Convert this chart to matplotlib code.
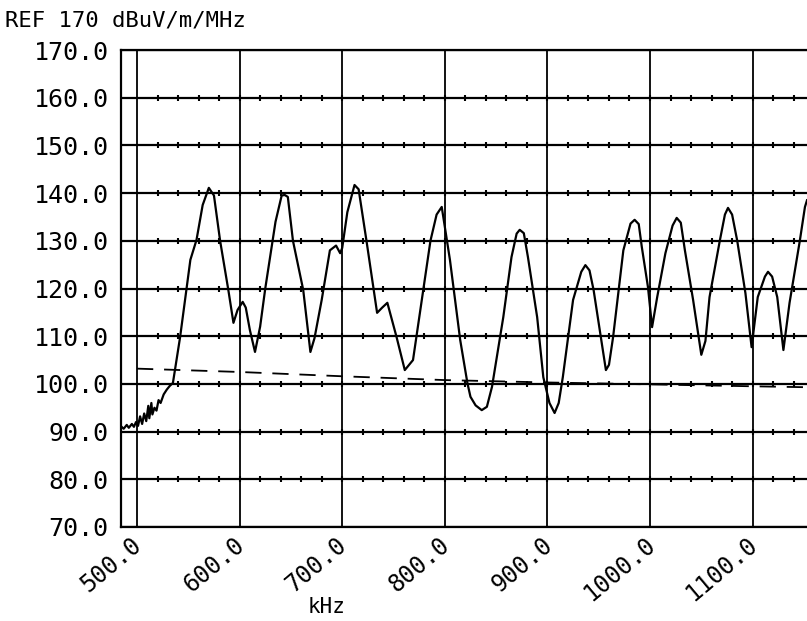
# field_strength_plot.py
# Spectrum analyser trace, 500 kHz - 1.15 MHz, REF 170 dBuV/m/MHz

import numpy as np
import matplotlib.pyplot as plt
from matplotlib.transforms import ScaledTranslation

# ── DATA ────────────────────────────────────────────────
# measured trace (kHz, dBuV/m/MHz)
freq_khz = [484, 487, 490, 492, 495, 497, 499, 501, 503, 505, 507, 509,
            511, 512, 514, 515, 517, 519, 521, 523, 526, 529, 532, 535,
            542, 552, 558, 564, 570, 575, 581, 589, 594, 598, 603, 606,
            610, 615, 620, 625, 635, 641, 644, 647, 652, 662, 669, 673,
            680, 688, 694, 698, 700, 705, 712, 716, 724, 734, 739, 744,
            753, 761, 769, 779, 786, 792, 797, 805, 815, 822, 825, 830,
            836, 841, 846, 857, 865, 870, 873, 877, 881, 890, 896, 902,
            907, 911, 915, 925, 933, 937, 941, 945, 951, 957, 960, 964,
            974, 981, 985, 989, 992, 998, 1002, 1007, 1015, 1022, 1026,
            1030, 1034, 1042, 1050, 1054, 1058, 1068, 1073, 1076, 1080,
            1085, 1093, 1099, 1105, 1112, 1115, 1119, 1124, 1130, 1136,
            1146, 1151, 1153]
level_db = [91.2, 90.6, 91.4, 90.8, 91.6, 91.0, 92.0, 91.2, 93.2, 91.6,
            93.8, 92.2, 95.4, 92.8, 96.0, 93.6, 95.0, 94.4, 96.6, 96.0,
            97.8, 98.8, 99.6, 100.2, 109.8, 126.0, 130.2, 137.5, 141.1,
            139.5, 130.0, 119.7, 112.8, 115.5, 117.2, 116.0, 111.3, 106.7,
            112.0, 120.0, 134.0, 139.5, 139.6, 139.2, 130.0, 119.7, 106.7,
            109.6, 117.6, 128.0, 129.0, 127.4, 128.5, 136.0, 141.7, 140.8,
            129.5, 114.9, 116.0, 117.0, 109.8, 102.9, 105.0, 119.7, 130.0,
            135.5, 137.1, 126.0, 109.2, 100.2, 97.3, 95.5, 94.5, 95.2, 99.4,
            114.0, 126.6, 131.5, 132.3, 131.6, 126.6, 114.0, 101.4, 96.0,
            93.9, 96.0, 101.4, 117.6, 123.5, 124.9, 123.8, 119.7, 111.3,
            102.9, 104.0, 109.8, 128.0, 133.6, 134.4, 133.5, 128.7, 120.3,
            111.9, 118.2, 127.4, 133.2, 134.8, 133.8, 128.0, 117.6, 106.1,
            109.0, 118.2, 130.0, 135.5, 136.9, 135.5, 130.0, 119.0, 107.7,
            118.2, 122.5, 123.5, 122.5, 118.2, 107.1, 117.0, 130.0, 137.1,
            138.5]

# limit line (kHz, dBuV/m/MHz)
limit_khz = [500, 600, 700, 800, 900, 1000, 1100, 1153]
limit_db  = [103.2, 102.5, 101.6, 100.8, 100.3, 99.9, 99.5, 99.3]

x_ticks = [500, 600, 700, 800, 900, 1000, 1100]
y_ticks = [70, 80, 90, 100, 110, 120, 130, 140, 150, 160, 170]

FONT = "DejaVu Sans Mono"

# ── PLOT ────────────────────────────────────────────────
fig = plt.figure(figsize=(8.07, 6.21), dpi=100)
ax = fig.add_axes([121 / 807, 94 / 621, 686 / 807, 477 / 621])

ax.set_xlim(484.4, 1153)
ax.set_ylim(70, 170)

# grid lines, with small marks every 20 kHz along each level line
for v in x_ticks:
    ax.axvline(v, color="black", lw=1.3, zorder=1)
for v in y_ticks:
    ax.axhline(v, color="black", lw=1.6, zorder=1)
minor_x = np.arange(520, 1153, 20)
for v in y_ticks[1:-1]:
    ax.plot(minor_x, [v] * len(minor_x), ls="none", marker="|",
            ms=4, mew=1.5, color="black", zorder=1)

ax.plot(limit_khz, limit_db, color="black", lw=1.3,
        dashes=(9, 6), zorder=2)
ax.plot(freq_khz, level_db, color="black", lw=1.6, zorder=3)

for side in ("left", "bottom", "top"):
    ax.spines[side].set_linewidth(1.6)
ax.spines["right"].set_visible(False)

ax.set_xticks(x_ticks)
ax.set_xticklabels([f"{v:.1f}" for v in x_ticks], rotation=40,
                   ha="right", va="top", rotation_mode="anchor",
                   family=FONT, fontsize=17)
ax.set_yticks(y_ticks)
ax.set_yticklabels([f"{v:.1f}" for v in y_ticks],
                   family=FONT, fontsize=18)
ax.tick_params(axis="both", length=0)
ax.tick_params(axis="y", pad=9)
ax.tick_params(axis="x", pad=4)

# pull the slanted labels back so they end on their grid line
shift = ScaledTranslation(-6 / 100, 0, fig.dpi_scale_trans)
for lbl in ax.get_xticklabels():
    lbl.set_transform(lbl.get_transform() + shift)

fig.text(5 / 807, 1 - 20 / 621, "REF 170 dBuV/m/MHz", family=FONT,
         fontsize=16, va="center", ha="left")
fig.text(327 / 807, 1 - 607 / 621, "kHz", family=FONT, fontsize=15,
         va="center", ha="center")

fig.savefig("out.png", dpi=100)
